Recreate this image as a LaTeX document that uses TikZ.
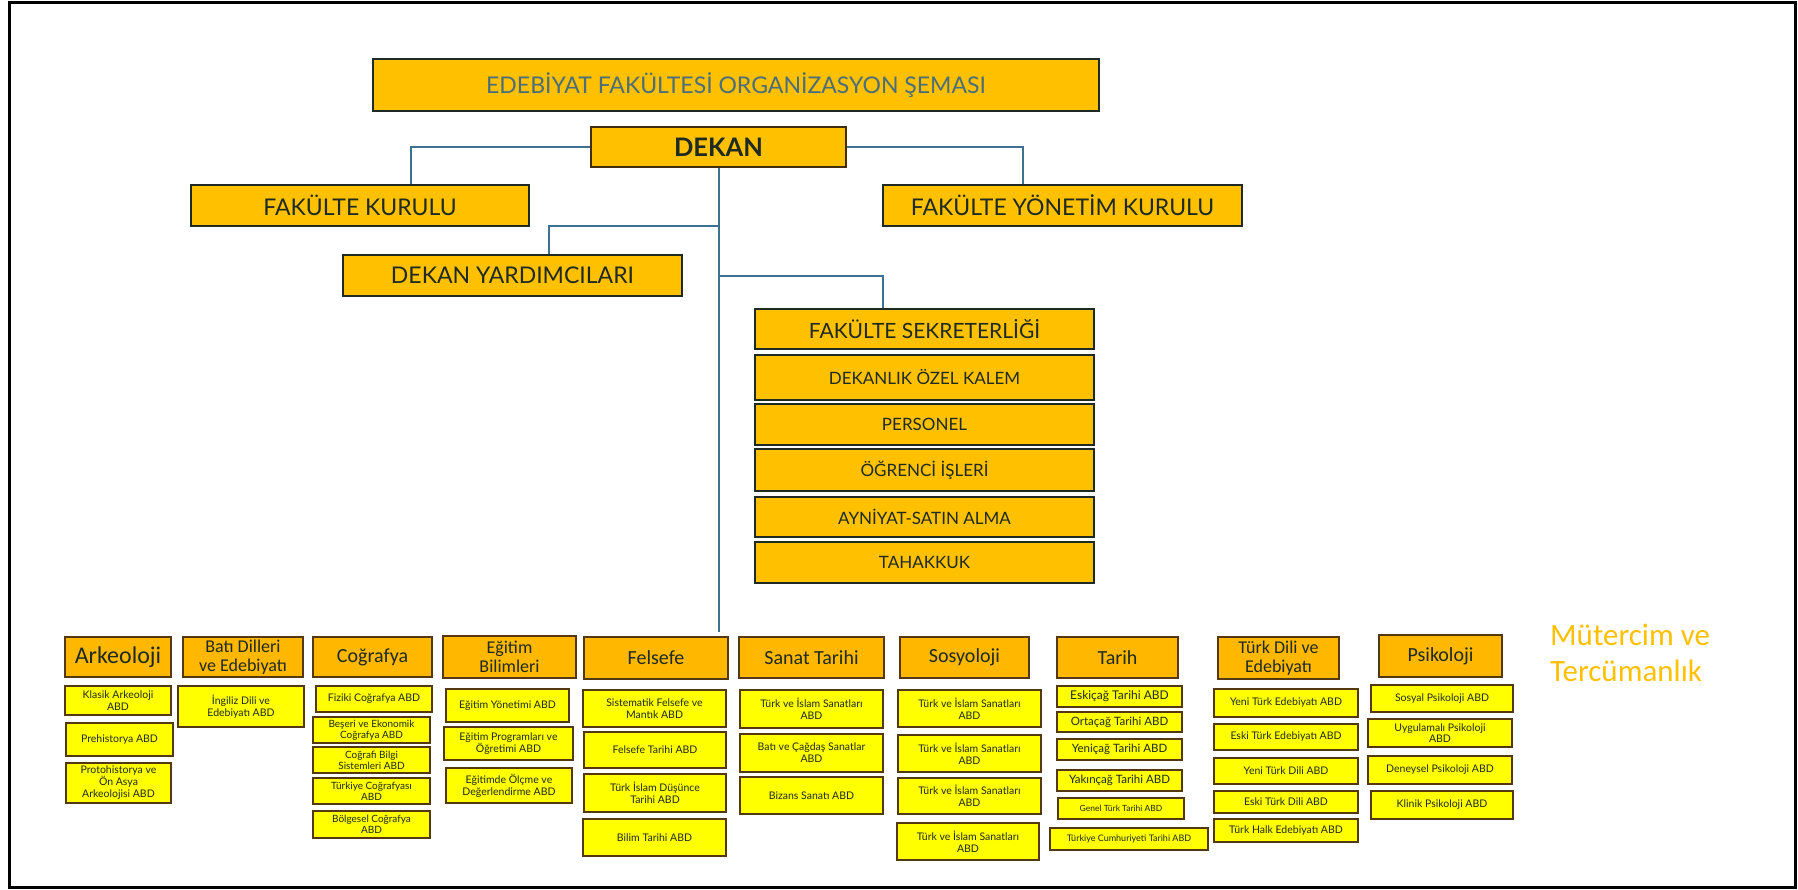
\documentclass[tikz,border=0pt]{standalone}
\usepackage{fontspec}
\setmainfont{Lato}
\newfontfamily\boxfont{Lato}
\newfontfamily\headfont{Carlito}
\usetikzlibrary{calc}

\definecolor{gold}{HTML}{FFC000}
\definecolor{amber}{HTML}{FFB700}
\definecolor{lemon}{HTML}{FFFF00}
\definecolor{bark}{HTML}{553812}
\definecolor{ink}{HTML}{1E2A22}
\definecolor{steel}{HTML}{3E7191}
\definecolor{slate}{HTML}{4B6E7C}

\tikzset{box/.style 2 args={minimum width=#1pt, minimum height=#2pt}}

\begin{document}
\begin{tikzpicture}[x=1pt, y=-1pt,
    topbox/.style={draw=ink, line width=2pt, fill=gold, inner sep=0pt, text=ink,
      font=\boxfont\fontsize{23}{26}\selectfont},
    headbox/.style={draw=bark, line width=2.8pt, fill=amber, inner sep=0pt, text=ink,
      align=center, font=\headfont\fontsize{20}{20}\selectfont},
    twohead/.style={headbox, font=\headfont\fontsize{18}{19}\selectfont},
    subbox/.style={draw=bark, line width=2.6pt, fill=lemon, inner sep=0pt, text=ink,
      align=center, font=\boxfont\fontsize{10.5}{12}\selectfont},
    link/.style={draw=steel, line width=2pt}]

  \path [fill=white, use as bounding box] (0,0) rectangle (1798,889);
  \draw [line width=3pt] (9,2) rectangle (1795,887);

  % top of the chart
  \node [topbox, box={726}{52}, text=slate] (title) at (736,85)
  {EDEBİYAT FAKÜLTESİ ORGANİZASYON ŞEMASI};
  \node [topbox, box={255}{40}, draw=bark!80!black,
    font=\boxfont\bfseries\fontsize{25.5}{28}\selectfont] (dekan) at (718.5,147) {DEKAN};
  \node [topbox, box={338}{41}] (fk) at (360,205.5) {FAKÜLTE KURULU};
  \node [topbox, box={359}{41}] (fyk) at (1062.5,205.5) {FAKÜLTE YÖNETİM KURULU};
  \node [topbox, box={339}{41}] (dy) at (512.5,275.5) {DEKAN YARDIMCILARI};

  % secretariat stack
  \node [topbox, box={339}{40}, font=\boxfont\fontsize{21}{24}\selectfont] (sek) at (924.5,329) {FAKÜLTE SEKRETERLİĞİ};
  \node [topbox, box={339}{45}, font=\boxfont\fontsize{17}{20}\selectfont] (ozel) at (924.5,377.5) {DEKANLIK ÖZEL KALEM};
  \node [topbox, box={339}{41}, font=\boxfont\fontsize{17}{20}\selectfont] (pers) at (924.5,424.5) {PERSONEL};
  \node [topbox, box={339}{42}, font=\boxfont\fontsize{17}{20}\selectfont] (ogr) at (924.5,470) {ÖĞRENCİ İŞLERİ};
  \node [topbox, box={339}{40}, font=\boxfont\fontsize{17}{20}\selectfont] (ayn) at (924.5,517) {AYNİYAT-SATIN ALMA};
  \node [topbox, box={339}{41}, font=\boxfont\fontsize{17}{20}\selectfont] (tah) at (924.5,562.5) {TAHAKKUK};

  \draw [link] (dekan.west) -| ([xshift=51pt]fk.north);
  \draw [link] (dekan.east) -| ([xshift=-39.5pt]fyk.north);
  \coordinate (mainend) at (dekan.south |- 0,632);
  \draw [link] (dekan.south) -- (mainend);
  \coordinate (dyjoin) at (dekan.south |- 0,226);
  \draw [link] (dyjoin) -| ([xshift=36.5pt]dy.north);
  \coordinate (secjoin) at (dekan.south |- 0,276);
  \draw [link] (secjoin) -| ([xshift=-41.5pt]sek.north);

  % departments
  \node [headbox, box={106}{40}, font=\headfont\fontsize{24}{24}\selectfont] (ark) at (118,657) {Arkeoloji};
  \node [subbox, box={106}{29}] (kla) at (118,700.5) {Klasik Arkeoloji\\ABD};
  \node [subbox, box={107}{33}] (pre) at (119.5,739.5) {Prehistorya ABD};
  \node [subbox, box={105}{40}, font=\boxfont\fontsize{10.5}{12}\selectfont] (pro) at (118.5,783) {Protohistorya ve\\Ön Asya\\Arkeolojisi ABD};

  \node [twohead, box={120}{40}] (bat) at (243,657) {Batı Dilleri\\ve Edebiyatı};
  \node [subbox, box={126}{41}] (ing) at (241,706.5) {İngiliz Dili ve\\Edebiyatı ABD};

  \node [headbox, box={119}{40}] (cog) at (372.5,657) {Coğrafya};
  \node [subbox, box={116}{26}] (fiz) at (374,699) {Fiziki Coğrafya ABD};
  \node [subbox, box={117}{26}, font=\boxfont\fontsize{10}{11}\selectfont] (bes) at (371.5,730) {Beşeri ve Ekonomik\\Coğrafya ABD};
  \node [subbox, box={117}{26}, font=\boxfont\fontsize{10}{11}\selectfont] (cbs) at (371.5,760) {Coğrafi Bilgi\\Sistemleri ABD};
  \node [subbox, box={117}{26}, font=\boxfont\fontsize{10}{11}\selectfont] (tco) at (371.5,791) {Türkiye Coğrafyası\\ABD};
  \node [subbox, box={117}{27}, font=\boxfont\fontsize{10}{11}\selectfont] (bol) at (371.5,824.5) {Bölgesel Coğrafya\\ABD};

  \node [twohead, box={133}{42}] (egi) at (509.5,657) {Eğitim\\Bilimleri};
  \node [subbox, box={123}{33}] (ey) at (507.5,705.5) {Eğitim Yönetimi ABD};
  \node [subbox, box={129}{33}] (ep) at (508.5,743.5) {Eğitim Programları ve\\Öğretimi ABD};
  \node [subbox, box={126}{35}] (eo) at (509,785.5) {Eğitimde Ölçme ve\\Değerlendirme ABD};

  \node [headbox, box={144}{42}] (fel) at (656,658) {Felsefe};
  \node [subbox, box={143}{37}] (sis) at (654.5,708.5) {Sistematik Felsefe ve\\Mantık ABD};
  \node [subbox, box={142}{36}] (ft) at (655,750) {Felsefe Tarihi ABD};
  \node [subbox, box={142}{38}] (tid) at (655,793) {Türk İslam Düşünce\\Tarihi ABD};
  \node [subbox, box={143}{37}] (bt) at (654.5,837.5) {Bilim Tarihi ABD};

  \node [headbox, box={145}{41}] (san) at (811.5,657.5) {Sanat Tarihi};
  \node [subbox, box={143}{38}] (sti) at (811.5,709) {Türk ve İslam Sanatları\\ABD};
  \node [subbox, box={143}{38}] (bcs) at (811.5,753) {Batı ve Çağdaş Sanatlar\\ABD};
  \node [subbox, box={143}{37}] (biz) at (811.5,795.5) {Bizans Sanatı ABD};

  \node [headbox, box={129}{41}] (sos) at (964.5,657.5) {Sosyoloji};
  \node [subbox, box={143}{37}] (so1) at (969.5,708.5) {Türk ve İslam Sanatları\\ABD};
  \node [subbox, box={143}{37}] (so2) at (969.5,753.5) {Türk ve İslam Sanatları\\ABD};
  \node [subbox, box={143}{36}] (so3) at (969.5,796) {Türk ve İslam Sanatları\\ABD};
  \node [subbox, box={142}{37}] (so4) at (968,841.5) {Türk ve İslam Sanatları\\ABD};

  \node [headbox, box={121}{41}] (tar) at (1117.5,657.5) {Tarih};
  \node [subbox, box={125}{21}, font=\boxfont\fontsize{12}{13}\selectfont] (esk) at (1119.5,696.5) {Eskiçağ Tarihi ABD};
  \node [subbox, box={125}{20}, font=\boxfont\fontsize{11.5}{12}\selectfont] (ort) at (1119.5,722) {Ortaçağ Tarihi ABD};
  \node [subbox, box={125}{21}, font=\boxfont\fontsize{11.5}{12}\selectfont] (yen) at (1119.5,749.5) {Yeniçağ Tarihi ABD};
  \node [subbox, box={125}{21}, font=\boxfont\fontsize{11.5}{12}\selectfont] (yak) at (1119.5,780.5) {Yakınçağ Tarihi ABD};
  \node [subbox, box={126}{21}, font=\boxfont\fontsize{8.5}{9}\selectfont] (gen) at (1121,808.5) {Genel Türk Tarihi ABD};
  \node [subbox, box={158}{22}, font=\boxfont\fontsize{9}{10}\selectfont] (tcr) at (1129,839) {Türkiye Cumhuriyeti Tarihi ABD};

  \node [twohead, box={121}{42}] (tde) at (1278.5,658) {Türk Dili ve\\Edebiyatı};
  \node [subbox, box={144}{28}] (yte) at (1286,703) {Yeni Türk Edebiyatı ABD};
  \node [subbox, box={144}{26}] (ete) at (1286,737) {Eski Türk Edebiyatı ABD};
  \node [subbox, box={144}{26}] (ytd) at (1286,771) {Yeni Türk Dili ABD};
  \node [subbox, box={144}{22}] (etd) at (1286,802) {Eski Türk Dili ABD};
  \node [subbox, box={144}{23}] (the) at (1286,830.5) {Türk Halk Edebiyatı ABD};

  \node [headbox, box={123}{42}] (psi) at (1440.5,656) {Psikoloji};
  \node [subbox, box={142}{27}] (spa) at (1442,698.5) {Sosyal Psikoloji ABD};
  \node [subbox, box={144}{28}, font=\boxfont\fontsize{10.5}{11}\selectfont] (upa) at (1440,733) {Uygulamalı Psikoloji\\ABD};
  \node [subbox, box={144}{28}] (dpa) at (1440,770) {Deneysel Psikoloji ABD};
  \node [subbox, box={142}{28}] (kpa) at (1442,805) {Klinik Psikoloji ABD};

  \node [anchor=north west, inner sep=0pt, align=left, text=gold,
    font=\headfont\fontsize{31}{36}\selectfont] (mut) at (1550,624) {Mütercim ve\\Tercümanlık};
\end{tikzpicture}
\end{document}
